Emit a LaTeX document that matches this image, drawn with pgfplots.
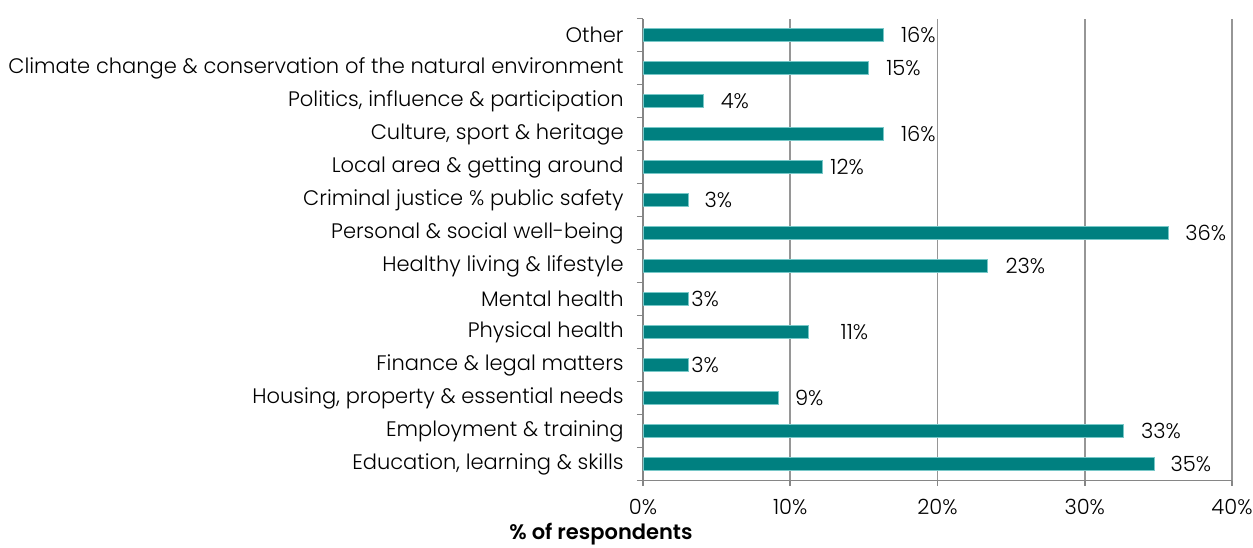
\documentclass[border=0pt]{standalone}
\usepackage{fontspec}
\setmainfont{Poppins}[UprightFont=* Light, BoldFont=* SemiBold]
\usepackage{pgfplots}
\usepackage{pgfplotstable}
\pgfplotsset{compat=1.18}
\definecolor{barteal}{RGB}{0,128,128}
\definecolor{baredge}{RGB}{120,200,200}
\definecolor{axgray}{RGB}{134,134,134}
\definecolor{gridgray}{RGB}{150,150,150}
\pgfplotstableread{
y val lab off
13 16.3 16 8.8
12 15.3 15 8.8
11 4.1 4 8.5
10 16.3 16 8.8
9 12.2 12 3.7
8 3.05 3 8.1
7 35.7 36 8.1
6 23.4 23 8.8
5 3.05 3 1.5
4 11.2 11 16.2
3 3.05 3 1.5
2 9.2 9 8.1
1 32.6 33 8.8
0 34.7 35 8.1
}\datatable
\begin{document}
\fontsize{10.5}{12.6}\selectfont
\begin{tikzpicture}
\path[use as bounding box] (-321.5pt,-33.25pt) rectangle (305pt,240.25pt);
\begin{axis}[
  scale only axis,
  width=294.5pt, height=231pt,
  xmin=0, xmax=40, ymin=-0.5, ymax=13.5,
  axis x line*=bottom, axis y line*=left,
  axis line style={axgray, line width=0.8pt},
  xtick={0,10,20,30,40},
  xticklabels={0\%,10\%,20\%,30\%,40\%},
  ytick={0,...,13},
  yticklabels={{Education, learning \& skills},{Employment \& training},{Housing, property \& essential needs},{Finance \& legal matters},{Physical health},{Mental health},{Healthy living \& lifestyle},{Personal \& social well-being},{Criminal justice \% public safety},{Local area \& getting around},{Culture, sport \& heritage},{Politics, influence \& participation},{Climate change \& conservation of the natural environment},{Other}},
  minor ytick={-0.5,0.5,...,13.5},
  tick align=outside,
  major tick length=2.5pt,
  minor tick length=3pt,
  major y tick style={draw=none},
  minor y tick style={axgray, line width=0.8pt},
  x tick style={axgray, line width=0.8pt},
  xmajorgrids,
  major x grid style={gridgray, line width=0.9pt},
  yticklabel style={anchor=east, inner sep=0pt, xshift=-7pt},
  xticklabel style={inner sep=0pt, yshift=-6.5pt},
  xlabel={\textbf{\% of respondents}},
  xlabel style={at={(axis description cs:-0.0713,0)}, anchor=center, yshift=-27pt},
]
\addplot[xbar, bar width=0.39, fill=barteal, draw=baredge, line width=0.4pt,
  point meta=explicit symbolic,
  visualization depends on={\thisrow{off} \as \labeloff},
  nodes near coords={\pgfplotspointmeta\%},
  nodes near coords style={anchor=west, inner sep=0pt, xshift=\labeloff pt, text=black},
] table[x=val, y=y, meta=lab] {\datatable};
\end{axis}
\end{tikzpicture}
\end{document}
